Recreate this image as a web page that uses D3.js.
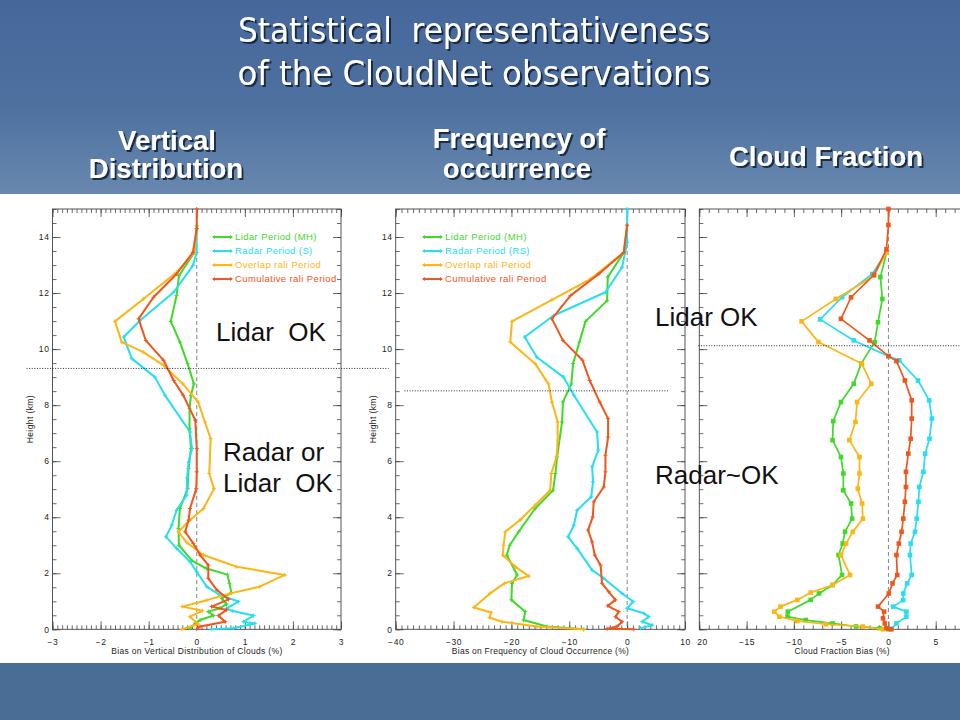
<!DOCTYPE html>
<html>
<head>
<meta charset="utf-8">
<script src="https://cdn.jsdelivr.net/npm/d3@7"></script>
<style>
  body { margin: 0; background: #4a6d96; }
  svg { display: block; }
</style>
</head>
<body>
<svg id="chart" width="960" height="720"></svg>
<script>
// ---------- data: [bias, height km] ----------
// Vertical distribution bias (%)
const vdLidar = [[0,14.4],[-0.05,13.45],[-0.37,12.62],[-0.42,11.91],[-0.54,10.99],[-0.35,10.25],[-0.19,9.48],[-0.06,8.76],[-0.12,8.35],[-0.15,7.87],[-0.15,7.16],[-0.12,6.45],[-0.17,5.74],[-0.19,5.02],[-0.35,4.31],[-0.38,3.6],[-0.37,3.0],[-0.1,2.45],[0.2,2.17],[0.64,1.95],[0.68,1.64],[0.72,1.3],[0.52,1.1],[0.62,0.9],[0.48,0.75],[0.24,0.63],[0.35,0.49],[0.07,0.33],[-0.03,0.22],[-0.14,0.04]];
const vdRadar = [[0,14.3],[0,13.45],[-0.08,12.98],[-0.48,12.03],[-1.18,11.02],[-1.52,10.43],[-1.35,9.66],[-0.87,9.0],[-0.66,8.35],[-0.14,7.04],[-0.1,6.45],[-0.17,5.97],[-0.2,5.4],[-0.21,4.79],[-0.42,4.25],[-0.52,3.72],[-0.64,3.3],[-0.42,2.89],[-0.14,2.41],[0,2.05],[0.21,1.52],[0.48,1.22],[0.87,0.99],[0.62,0.75],[0.75,0.65],[1.18,0.49],[0.97,0.27],[1.21,0.21],[0.76,0.04],[0.3,0]];
const vdOverlap = [[0,14.3],[-0.05,13.45],[-0.42,12.74],[-1.11,11.79],[-1.7,10.99],[-1.56,10.25],[-1.11,9.89],[-0.69,9.42],[-0.29,8.76],[0.03,8.11],[0.17,7.4],[0.29,6.8],[0.26,5.56],[0.36,5.02],[0.14,4.31],[-0.14,3.9],[-0.38,3.48],[-0.21,3.1],[0.14,2.65],[0.83,2.23],[1.83,1.94],[1.31,1.52],[0.69,1.28],[0.21,1.04],[-0.3,0.81],[0.12,0.66],[-0.14,0.45],[0.03,0.19],[-0.31,0]];
const vdCumul = [[0,15],[0,14.3],[-0.08,13.45],[-0.42,12.68],[-0.9,11.85],[-1.21,11.08],[-1.06,10.31],[-0.69,9.6],[-0.48,8.88],[-0.28,8.35],[-0.03,7.46],[0,6.45],[0,5.62],[-0.01,5.02],[-0.14,4.31],[-0.17,3.9],[-0.24,3.48],[-0.07,3.06],[0.07,2.65],[0.24,2.29],[0.24,1.82],[0.42,1.4],[0.66,1.07],[0.31,0.81],[0.62,0.69],[0.45,0.49],[0.59,0.27],[0.07,0.1],[0,0]];

// Frequency of cloud occurrence bias (%)
const foLidar = [[0,14.4],[-0.58,13.45],[-3.35,12.57],[-3.46,11.73],[-7.2,10.99],[-8.25,10.25],[-9.35,9.48],[-9.64,8.76],[-11.1,8.11],[-11.25,7.4],[-12.1,6.15],[-12.4,5.56],[-12.8,4.96],[-15.9,4.31],[-18.75,3.48],[-20.3,3.0],[-20.8,2.65],[-19.0,1.94],[-19.9,1.64],[-20.0,1.05],[-17.6,0.63],[-17.9,0.33],[-13.85,0.1],[-7.5,0]];
const foRadar = [[0,15],[0,13.8],[-0.87,12.92],[-3.75,12.03],[-12.7,11.2],[-17.7,10.43],[-15.6,9.71],[-11.0,9.0],[-9.2,8.35],[-5.2,7.04],[-5.0,6.39],[-6.05,5.8],[-5.9,5.26],[-6.2,4.73],[-8.65,4.25],[-9.2,3.72],[-10.2,3.3],[-8.65,2.89],[-6.05,2.11],[-4.04,1.82],[-0.87,1.28],[1.04,0.99],[0,0.75],[2.89,0.57],[3.75,0.45],[2.6,0.27],[4.33,0.15],[2.3,0.04]];
const foOverlap = [[-0.58,13.45],[-6.35,12.5],[-13.0,11.76],[-19.9,10.99],[-20.2,10.25],[-15.9,9.48],[-13.6,8.76],[-13.0,8.11],[-12.0,7.4],[-12.0,6.75],[-12.2,6.15],[-13.1,5.56],[-13.3,4.96],[-15.9,4.43],[-18.5,3.9],[-21.06,3.48],[-21.35,3.0],[-21.5,2.65],[-19.3,2.23],[-17.0,1.9],[-21.2,1.64],[-23.7,1.28],[-26.5,0.78],[-23.5,0.6],[-23.8,0.42],[-21.6,0.27],[-15.6,0.1],[-7.5,0]];
const foCumul = [[0,14.43],[-0.58,13.45],[-4.9,12.68],[-9.8,11.91],[-13.0,11.08],[-11.1,10.31],[-7.7,9.6],[-6.46,8.88],[-4.73,8.11],[-3.29,7.52],[-3.29,6.86],[-3.75,6.21],[-3.75,5.62],[-4.04,5.08],[-5.77,4.55],[-5.94,4.01],[-6.75,3.54],[-6.06,3.12],[-5.6,2.65],[-4.6,2.29],[-4.33,1.64],[-3.17,1.34],[-2.02,1.05],[-3.35,0.84],[-1.44,0.63],[-2.02,0.45],[-0.87,0.27],[-1.73,0.1],[-3.46,0.02],[1.15,0]];

// Cloud fraction bias (%)
const cfLidar = [[-0.2,13.45],[-0.85,12.57],[-0.64,11.79],[-1.1,10.96],[-1.46,10.25],[-2.88,9.48],[-3.67,8.76],[-5.02,8.11],[-5.84,7.43],[-5.91,6.75],[-5.02,6.15],[-4.77,5.56],[-4.77,4.96],[-3.95,4.49],[-3.84,3.95],[-4.59,3.48],[-4.84,3.06],[-5.27,2.65],[-4.91,1.94],[-5.91,1.58],[-7.33,1.28],[-8.22,1.05],[-10.64,0.63],[-10.68,0.45],[-8.75,0.33],[-5.91,0.21],[-3.42,0.1],[-0.93,0.04],[0,0]];
const cfRadar = [[-0.21,13.45],[-1.71,12.68],[-4.91,11.85],[-7.22,11.06],[-3.67,10.31],[0,9.75],[1.14,9.6],[3.13,8.88],[4.31,8.17],[4.59,7.52],[4.34,6.8],[3.88,6.27],[3.7,5.62],[3.27,5.08],[3.17,4.55],[2.99,3.95],[2.81,3.48],[2.35,3.06],[2.28,2.65],[2.46,1.94],[1.99,1.64],[1.57,1.28],[1.56,1.04],[0.5,0.81],[1.9,0.63],[1.9,0.45],[0.85,0.21],[0.32,0.02]];
const cfOverlap = [[-0.2,13.45],[-1.53,12.62],[-5.55,11.79],[-9.18,10.99],[-7.4,10.25],[-2.81,9.48],[-1.81,8.76],[-3.31,8.11],[-3.49,7.4],[-4.13,6.75],[-3.06,6.15],[-3.06,5.56],[-3.24,5.02],[-2.78,4.49],[-2.7,3.95],[-3.77,3.48],[-4.48,3.06],[-5.02,2.65],[-4.06,1.94],[-5.91,1.58],[-8.22,1.31],[-9.64,1.05],[-11.42,0.81],[-12.06,0.63],[-11.53,0.45],[-9.64,0.3],[-6.62,0.18],[-2.7,0.1],[-0.57,0]];
const cfCumul = [[0,15],[0,14.43],[-0.21,13.56],[-1.53,12.65],[-3.95,11.85],[-5.02,11.08],[-2.0,10.31],[0,9.75],[0.85,9.57],[1.74,8.88],[2.46,8.17],[2.46,7.52],[2.35,6.8],[2.1,6.27],[1.85,5.62],[1.85,5.08],[1.74,4.55],[1.57,3.95],[1.39,3.48],[1.1,3.06],[0.85,2.65],[0.93,1.94],[0.43,1.64],[0.04,1.28],[-1.1,0.81],[-0.46,0.63],[-0.57,0.39],[-0.39,0.21],[-0.21,0.04],[0.3,0]];

const vdLegend = ["Lidar Period (MH)", "Radar Period (S)", "Overlap rali Period", "Cumulative rali Period"];
const foLegend = ["Lidar Period (MH)", "Radar Period (RS)", "Overlap rali Period", "Cumulative rali Period"];

const vdTicks = [-3, -2, -1, 0, 1, 2, 3];
const foTicks = [-40, -30, -20, -10, 0, 10];
const cfTicks = [-20, -15, -10, -5, 0, 5];   // the 10 label lies off the slide
const heightTicks = [0, 2, 4, 6, 8, 10, 12, 14];

// height (km) of the dotted "limit" lines, with the bias span they cover
const vdLimit = {h: 9.31, from: -3.54, to: 3.99};
const foLimit = {h: 8.51, from: -38.5, to: 7.3};
const cfLimit = {h: 10.12, from: -20.1, to: 10};

const colors = ["#3fd92a", "#25def0", "#fdb515", "#f0561c"];

// ---------- layout ----------
const svg = d3.select("#chart");
const defs = svg.append("defs");

const grad = defs.append("linearGradient").attr("id", "bg")
  .attr("x1", 0).attr("y1", 0).attr("x2", 0).attr("y2", 1);
grad.append("stop").attr("offset", "0%").attr("stop-color", "#46679a");
grad.append("stop").attr("offset", "55%").attr("stop-color", "#4e71a0");
grad.append("stop").attr("offset", "100%").attr("stop-color", "#6888ae");

const shadow = defs.append("filter").attr("id", "shadow")
  .attr("x", "-10%").attr("y", "-30%").attr("width", "130%").attr("height", "170%");
shadow.append("feDropShadow").attr("dx", 2).attr("dy", 2).attr("stdDeviation", 0.7)
  .attr("flood-color", "#0d1b30").attr("flood-opacity", 0.85);

defs.append("clipPath").attr("id", "clip3")
  .append("rect").attr("x", 696).attr("y", 194).attr("width", 264).attr("height", 469);

svg.append("rect").attr("width", 960).attr("height", 195).attr("fill", "url(#bg)");
svg.append("rect").attr("y", 662).attr("width", 960).attr("height", 58).attr("fill", "#4a6d96");
svg.append("rect").attr("y", 194).attr("width", 960).attr("height", 469).attr("fill", "#ffffff");

// titles
const title = svg.append("g").attr("fill", "#fff").attr("filter", "url(#shadow)")
  .attr("font-family", "'DejaVu Sans Condensed', 'DejaVu Sans', sans-serif")
  .attr("font-size", 34).attr("text-anchor", "middle");
title.append("text").attr("x", 474).attr("y", 42)
  .attr("textLength", 472).attr("lengthAdjust", "spacingAndGlyphs")
  .text("Statistical\u00a0 representativeness");
title.append("text").attr("x", 474).attr("y", 85)
  .attr("textLength", 473).attr("lengthAdjust", "spacingAndGlyphs")
  .text("of the CloudNet observations");

const sub = svg.append("g").attr("fill", "#fff").attr("filter", "url(#shadow)")
  .attr("font-family", "'Liberation Sans', Arial, sans-serif").attr("font-weight", "bold")
  .attr("font-size", 27.5).attr("text-anchor", "middle");
[["Vertical", 167, 150], ["Distribution", 166, 178], ["Frequency of", 519, 148],
 ["occurrence", 517, 178], ["Cloud Fraction", 826, 166]].forEach(([t, x, y]) => {
  sub.append("text").attr("x", x).attr("y", y).text(t);
});

// ---------- panels ----------
const yScale = d3.scaleLinear().domain([0, 15]).range([629.3, 209]);

const panels = [
  {left: 52.5, right: 341, domain: [-3, 3], ticks: vdTicks, minor: 0.1, yLabels: true,
   series: [vdLidar, vdRadar, vdOverlap, vdCumul], legend: vdLegend, legendX: 213,
   xTitle: "Bias on Vertical Distribution of Clouds (%)", titleW: 171, marker: "cross", limit: vdLimit},
  {left: 395.7, right: 685, domain: [-40, 10], ticks: foTicks, minor: 1, yLabels: true,
   series: [foLidar, foRadar, foOverlap, foCumul], legend: foLegend, legendX: 423,
   xTitle: "Bias on Frequency of Cloud Occurrence (%)", titleW: 177, marker: "cross", limit: foLimit},
  {left: 699.3, right: 983, domain: [-20, 10], ticks: cfTicks, minor: 1, yLabels: false,
   series: [cfLidar, cfRadar, cfOverlap, cfCumul], legend: null, clip: true,
   xTitle: "Cloud Fraction Bias (%)", titleW: 95, marker: "square", limit: cfLimit}
];

const fmt = d => d < 0 ? "\u2212" + Math.abs(d) : String(d);

function styleAxis(g) {
  g.select(".domain").remove();
  g.selectAll(".tick line").attr("stroke", "#444").attr("stroke-width", 0.8);
  g.selectAll(".tick text").attr("fill", "#222").attr("font-size", 8.5)
    .attr("letter-spacing", 0.6).attr("font-family", "'Liberation Sans', Arial, sans-serif");
}

const limitLayer = [];

panels.forEach(p => {
  const x = d3.scaleLinear().domain(p.domain).range([p.left, p.right]);
  const y = yScale;
  const g = svg.append("g");
  if (p.clip) g.attr("clip-path", "url(#clip3)");

  const xMinor = d3.range(p.domain[0], p.domain[1] + 1e-9, p.minor).map(v => +v.toFixed(3));
  const yMinor = d3.range(0, 15.001, 0.5);
  const xMajor = d3.range(p.domain[0], p.domain[1] + 1e-9, p.ticks[1] - p.ticks[0]);

  // bottom / top
  g.append("g").attr("transform", `translate(0,${y(0)})`)
    .call(d3.axisBottom(x).tickValues(xMinor).tickSize(-4).tickFormat("")).call(styleAxis);
  g.append("g").attr("transform", `translate(0,${y(0)})`)
    .call(d3.axisBottom(x).tickValues(xMajor).tickSize(-8).tickFormat("")).call(styleAxis);
  g.append("g").attr("transform", `translate(0,${y(0)})`)
    .call(d3.axisBottom(x).tickValues(p.ticks).tickSize(0).tickPadding(9.5).tickFormat(fmt)).call(styleAxis);
  g.append("g").attr("transform", `translate(0,${y(15)})`)
    .call(d3.axisTop(x).tickValues(xMinor).tickSize(-4).tickFormat("")).call(styleAxis);
  g.append("g").attr("transform", `translate(0,${y(15)})`)
    .call(d3.axisTop(x).tickValues(xMajor).tickSize(-8).tickFormat("")).call(styleAxis);
  // left / right
  g.append("g").attr("transform", `translate(${p.left},0)`)
    .call(d3.axisLeft(y).tickValues(yMinor).tickSize(-4).tickFormat("")).call(styleAxis);
  g.append("g").attr("transform", `translate(${p.left},0)`)
    .call(d3.axisLeft(y).tickValues(heightTicks).tickSize(-8).tickPadding(3)
      .tickFormat(p.yLabels ? fmt : "")).call(styleAxis);
  g.append("g").attr("transform", `translate(${p.right},0)`)
    .call(d3.axisRight(y).tickValues(yMinor).tickSize(-4).tickFormat("")).call(styleAxis);
  g.append("g").attr("transform", `translate(${p.right},0)`)
    .call(d3.axisRight(y).tickValues(heightTicks).tickSize(-8).tickFormat("")).call(styleAxis);

  g.append("rect").attr("x", p.left).attr("y", y(15))
    .attr("width", p.right - p.left).attr("height", y(0) - y(15))
    .attr("fill", "none").attr("stroke", "#444").attr("stroke-width", 0.9);

  // axis titles (third panel: centred under the visible part of its box)
  const titleX = p.clip ? x(-4.9) : (p.left + p.right) / 2;
  g.append("text").attr("x", titleX).attr("y", 654)
    .attr("text-anchor", "middle").attr("font-size", 8.5).attr("fill", "#222")
    .attr("font-family", "'Liberation Sans', Arial, sans-serif")
    .attr("textLength", p.titleW).attr("lengthAdjust", "spacing")
    .text(p.xTitle);
  if (p.yLabels) {
    g.append("text").attr("transform", `translate(${p.left - 19.5},${y(7.5)}) rotate(-90)`)
      .attr("text-anchor", "middle").attr("font-size", 8.5).attr("fill", "#222")
      .attr("letter-spacing", 0.4)
      .attr("font-family", "'Liberation Sans', Arial, sans-serif")
      .text("Height (km)");
  }

  // zero line
  g.append("line").attr("x1", x(0)).attr("x2", x(0)).attr("y1", y(15)).attr("y2", y(0))
    .attr("stroke", "#777").attr("stroke-width", 0.9).attr("stroke-dasharray", "4,3");

  const line = d3.line().x(d => x(d[0])).y(d => y(d[1]));

  p.series.forEach((s, si) => {
    g.append("path").datum(s).attr("d", line)
      .attr("fill", "none").attr("stroke", colors[si])
      .attr("stroke-width", p.marker === "square" ? 1.7 : 2).attr("stroke-linejoin", "round");
    if (p.marker === "square") {
      g.append("g").selectAll("rect").data(s).join("rect")
        .attr("x", d => x(d[0]) - 2.3).attr("y", d => y(d[1]) - 2.3)
        .attr("width", 4.6).attr("height", 4.6).attr("fill", colors[si]);
    } else {
      g.append("g").selectAll("path").data(s).join("path")
        .attr("transform", d => `translate(${x(d[0])},${y(d[1])})`)
        .attr("d", "M-2,0H2M0,-2V2").attr("stroke", colors[si]).attr("stroke-width", 1);
    }
  });

  // legend
  if (p.legend) {
    const lg = g.append("g");
    p.legend.forEach((t, i) => {
      const ly = y(14 - i * 0.5);
      lg.append("line").attr("x1", p.legendX).attr("x2", p.legendX + 19)
        .attr("y1", ly).attr("y2", ly).attr("stroke", colors[i]).attr("stroke-width", 2);
      lg.append("path").attr("d", `M${p.legendX - 1},${ly}l3,-2v4z M${p.legendX + 20},${ly}l-3,-2v4z`)
        .attr("fill", colors[i]);
      lg.append("text").attr("x", p.legendX + 22).attr("y", ly + 3.3)
        .attr("font-size", 9.5).attr("letter-spacing", 0.4).attr("fill", colors[i])
        .attr("font-family", "'Liberation Sans', Arial, sans-serif")
        .text(t);
    });
  }

  limitLayer.push({x, lim: p.limit});
});

// dotted limit lines
limitLayer.forEach(({x, lim}) => {
  svg.append("line").attr("x1", x(lim.from)).attr("x2", Math.min(x(lim.to), 960))
    .attr("y1", yScale(lim.h)).attr("y2", yScale(lim.h))
    .attr("stroke", "#111").attr("stroke-width", 0.9).attr("stroke-dasharray", "1,1.6");
});

// annotations
const notes = svg.append("g").attr("font-family", "'Liberation Sans', Arial, sans-serif")
  .attr("font-size", 26).attr("fill", "#111");
[["Lidar\u00a0 OK", 216, 341], ["Radar or", 223, 461], ["Lidar\u00a0 OK", 223, 492],
 ["Lidar OK", 655, 326], ["Radar~OK", 655, 484]].forEach(([t, x, y]) => {
  notes.append("text").attr("x", x).attr("y", y).text(t);
});
</script>
</body>
</html>
